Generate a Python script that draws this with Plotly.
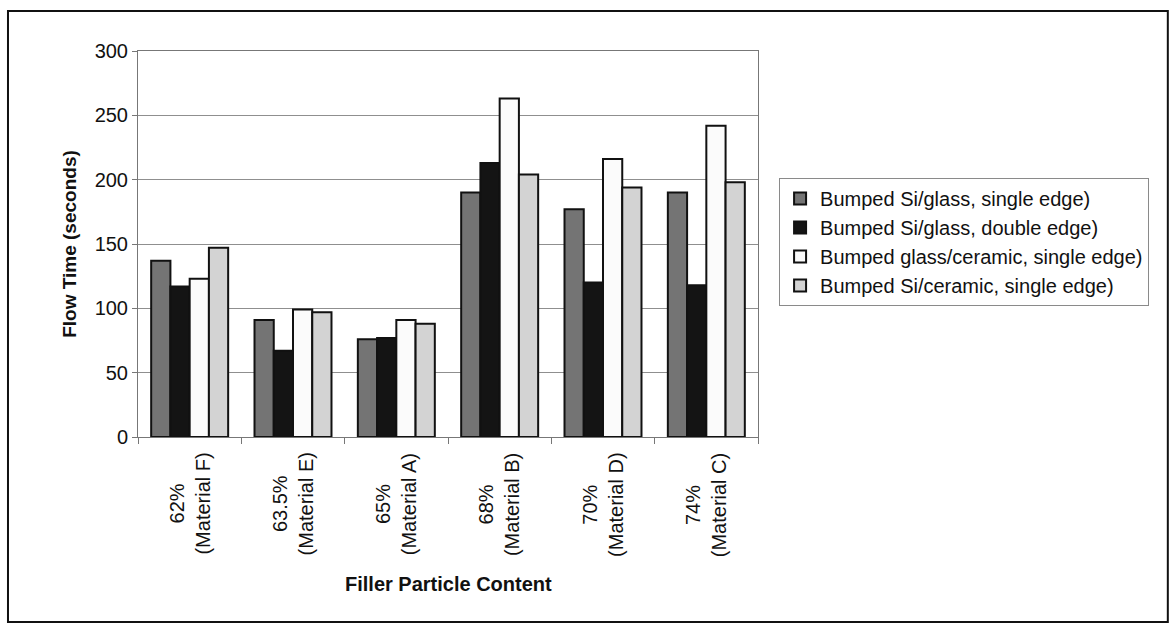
import plotly.graph_objects as go

categories = ["62%<br>(Material F)", "63.5%<br>(Material E)", "65%<br>(Material A)",
              "68%<br>(Material B)", "70%<br>(Material D)", "74%<br>(Material C)"]
cat_keys = ["F", "E", "A", "B", "D", "C"]

series_names = ["Bumped Si/glass, single edge)",
                "Bumped Si/glass, double edge)",
                "Bumped glass/ceramic, single edge)",
                "Bumped Si/ceramic, single edge)"]

si_glass_single = [137, 91, 76, 190, 177, 190]
si_glass_double = [117, 67, 77, 213, 120, 118]
glass_ceramic_single = [123, 99, 91, 263, 216, 242]
si_ceramic_single = [147, 97, 88, 204, 194, 198]

series_values = [si_glass_single, si_glass_double, glass_ceramic_single, si_ceramic_single]
colors = ["#747474", "#141414", "#fbfbfb", "#d3d3d3"]

FONT = "Liberation Sans, Arial, sans-serif"

fig = go.Figure()
for name, vals, col in zip(series_names, series_values, colors):
    fig.add_trace(go.Bar(
        x=cat_keys, y=vals, name=name,
        marker=dict(color=col, line=dict(color="#111111", width=2)),
    ))

# category labels (two lines, centered, rotated)
for key, lab in zip(cat_keys, categories):
    fig.add_annotation(x=key, xref="x", y=-0.036, yref="paper",
                       text=lab, textangle=-90, showarrow=False,
                       xanchor="center", yanchor="top", align="center",
                       font=dict(family=FONT, size=20, color="#111"))

fig.add_annotation(x=0.5, xref="paper", y=-0.381, yref="paper",
                   text="<b>Filler Particle Content</b>", showarrow=False,
                   xanchor="center", yanchor="middle",
                   font=dict(family=FONT, size=20, color="#111"))

# outer chart border
fig.add_shape(type="rect", xref="paper", yref="paper",
              x0=-0.2097, x1=1.661, y0=-0.479, y1=1.1036,
              line=dict(color="#111", width=2))

fig.update_layout(
    width=1171, height=630,
    margin=dict(l=138, r=413, t=51, b=193),
    paper_bgcolor="white", plot_bgcolor="white",
    barmode="group", bargap=0.255, bargroupgap=0,
    font=dict(family=FONT, size=20, color="#111"),
    showlegend=True,
    legend=dict(x=1.034, y=0.671, xanchor="left", yanchor="top",
                bordercolor="#8a8a8a", borderwidth=1,
                font=dict(family=FONT, size=20, color="#111"),
                itemwidth=30, tracegroupgap=0),
    xaxis=dict(showticklabels=False, tickson="boundaries", ticks="outside",
               ticklen=6, tickcolor="#777", showline=True, linecolor="#777",
               linewidth=1, mirror=True, showgrid=False),
    yaxis=dict(range=[0, 300], dtick=50, ticks="outside", ticklen=5,
               tickcolor="#777", showline=True, linecolor="#777", linewidth=1,
               mirror=True, showgrid=True, gridcolor="#8f8f8f", gridwidth=1,
               tickfont=dict(family=FONT, size=20, color="#111"),
               title=dict(text="<b>Flow Time (seconds)</b>", standoff=12,
                          font=dict(family=FONT, size=19, color="#111"))),
)

fig.write_html("out.html")
